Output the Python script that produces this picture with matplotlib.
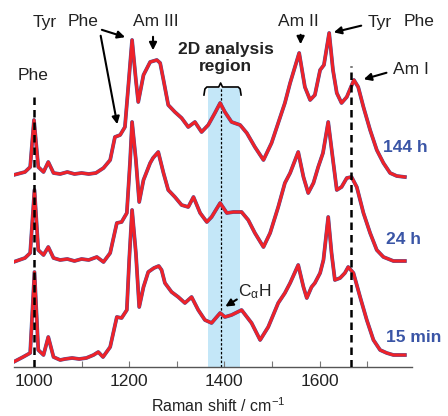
import matplotlib.pyplot as plt

plt.rcParams['font.family'] = ['Liberation Sans', 'DejaVu Sans']
plt.rcParams['mathtext.fontset'] = 'custom'
plt.rcParams['mathtext.rm'] = 'Liberation Sans'
plt.rcParams['mathtext.it'] = 'Liberation Sans:italic'
plt.rcParams['mathtext.default'] = 'regular'

# Raman spectra (arbitrary intensity, baseline ~0)
wn_15min = [957, 977, 992, 1001, 1009, 1020, 1030, 1041, 1055, 1065, 1080, 1095, 1110,
            1125, 1135, 1145, 1160, 1174, 1184, 1195, 1200, 1206, 1214, 1221, 1230, 1240,
            1252, 1262, 1268, 1275, 1289, 1303, 1317, 1331, 1345, 1359, 1373, 1391, 1401,
            1415, 1436, 1457, 1475, 1492, 1513, 1527, 1538, 1555, 1566, 1573, 1583, 1590,
            1601, 1608, 1618, 1625, 1632, 1643, 1653, 1660, 1671, 1685, 1699, 1713, 1727,
            1741, 1755, 1779]
int_15min = [0, 5, 9, 90, 12, 7, 25, 5, 2, 3, 4, 3, 4,
             7, 10, 5, 15, 45, 44, 52, 102, 152, 109, 55, 75, 90,
             94, 96, 92, 79, 70, 65, 59, 65, 52, 42, 39, 49, 45,
             47, 52, 39, 22, 35, 59, 69, 79, 97, 75, 64, 75, 79,
             89, 102, 145, 109, 82, 84, 89, 95, 89, 65, 42, 22, 12,
             9, 7, 7]

wn_24h = [957, 981, 992, 1001, 1009, 1020, 1030, 1041, 1055, 1070, 1085, 1100, 1115,
          1132, 1146, 1160, 1174, 1184, 1195, 1202, 1206, 1214, 1221, 1230, 1244, 1250,
          1261, 1272, 1282, 1296, 1310, 1324, 1335, 1349, 1363, 1373, 1391, 1405, 1419,
          1436, 1450, 1464, 1482, 1496, 1513, 1527, 1538, 1555, 1566, 1576, 1587, 1597,
          1607, 1618, 1628, 1636, 1646, 1657, 1667, 1678, 1692, 1706, 1720, 1734, 1755,
          1779]
int_24h = [0, 4, 9, 72, 12, 7, 15, 4, 2, 3, 1, 3, 2,
           5, 0, 9, 39, 40, 49, 102, 140, 102, 60, 82, 99, 104,
           110, 89, 72, 65, 57, 55, 65, 49, 40, 45, 59, 49, 50,
           50, 42, 29, 15, 29, 55, 79, 89, 110, 85, 69, 79, 95,
           109, 140, 102, 72, 75, 84, 85, 75, 49, 29, 12, 5, 1,
           1]

wn_144h = [957, 981, 992, 1000, 1009, 1020, 1030, 1041, 1055, 1070, 1085, 1100, 1115,
           1130, 1146, 1160, 1170, 1181, 1191, 1198, 1206, 1214, 1219, 1230, 1244, 1258,
           1265, 1272, 1282, 1296, 1310, 1324, 1338, 1352, 1366, 1380, 1391, 1401, 1415,
           1433, 1447, 1464, 1482, 1499, 1513, 1527, 1538, 1557, 1569, 1580, 1590, 1601,
           1609, 1620, 1628, 1636, 1646, 1657, 1672, 1681, 1692, 1706, 1720, 1734, 1748,
           1762, 1779]
int_144h = [2, 5, 10, 57, 10, 5, 15, 4, 3, 5, 3, 4, 3,
            4, 9, 17, 40, 42, 50, 90, 137, 97, 75, 102, 115, 117,
            114, 97, 72, 65, 59, 50, 55, 45, 52, 64, 74, 65, 55,
            52, 44, 30, 17, 34, 54, 74, 94, 124, 90, 77, 82, 107,
            112, 144, 107, 84, 74, 80, 97, 90, 70, 47, 27, 14, 4,
            1, 0]

labels = ['15 min', '24 h', '144 h']
offsets = [5, 105, 190]

red = '#ee2229'
blue = '#3a55a6'
txt = '#222222'

fig = plt.figure(figsize=(4.48, 4.16), dpi=100)
ax = fig.add_axes([14 / 448, 1 - 367 / 416, 398 / 448, 367 / 416])
ax.set_xlim(958, 1794)
ax.set_ylim(0, 367)

# 2D analysis region
ax.axvspan(1365, 1433, ymin=0, ymax=279 / 367, color='#c4e7f8', lw=0, zorder=0)
ax.plot([1357, 1359, 1363, 1388, 1392, 1396, 1429, 1433, 1435],
        [272, 278, 280, 280, 284, 280, 280, 278, 272], color='black', lw=1.2)
ax.plot([1392, 1392], [0, 280], color='black', lw=0.9, ls=(0, (2, 1.5)), zorder=1)

traces = [(wn_15min, int_15min), (wn_24h, int_24h), (wn_144h, int_144h)]
for (wn, inten), off in zip(traces, offsets):
    y = [v + off for v in inten]
    ax.plot(wn, y, color=blue, lw=2.7, zorder=2, solid_joinstyle='round')
    ax.plot(wn, y, color=red, lw=2.2, zorder=3, solid_joinstyle='round')

# marker lines
ax.plot([1000, 1000], [0, 275], color='black', lw=1.8, ls=(0, (3, 2)), zorder=4)
ax.plot([1665, 1665], [0, 301], color='black', lw=1.8, ls=(0, (3, 2)), zorder=4)

# labels
fs = 12.5
ax.text(998, 291, 'Phe', fontsize=fs, color=txt, ha='center', va='center')
ax.text(1022, 345, 'Tyr', fontsize=fs, color=txt, ha='center', va='center')
ax.text(1104, 345, 'Phe', fontsize=fs, color=txt, ha='center', va='center')
ax.text(1256, 345, 'Am III', fontsize=fs, color=txt, ha='center', va='center')
ax.text(1555, 345, 'Am II', fontsize=fs, color=txt, ha='center', va='center')
ax.text(1726, 345, 'Tyr', fontsize=fs, color=txt, ha='center', va='center', clip_on=False)
ax.text(1809, 345, 'Phe', fontsize=fs, color=txt, ha='center', va='center', clip_on=False)
ax.text(1754, 297, 'Am I', fontsize=fs, color=txt, ha='left', va='center', clip_on=False)
ax.text(1429, 75, r'C$_{\alpha}$H', fontsize=fs, color=txt, ha='left', va='center')
ax.text(1403, 309, '2D analysis\nregion', fontsize=12.5, fontweight='bold', color=txt,
        ha='center', va='center', linespacing=1.15)

arrow = dict(arrowstyle='-|>', color='black', lw=1.5, mutation_scale=11)
ax.annotate('', xy=(1250, 314), xytext=(1250, 333), arrowprops=arrow)
ax.annotate('', xy=(1197, 329), xytext=(1137, 338), arrowprops=arrow)
ax.annotate('', xy=(1176, 240), xytext=(1139, 334), arrowprops=arrow)
ax.annotate('', xy=(1560, 320), xytext=(1560, 335), arrowprops=arrow)
ax.annotate('', xy=(1624, 334), xytext=(1693, 342), arrowprops=arrow)
ax.annotate('', xy=(1687, 287), xytext=(1746, 295), arrowprops=arrow)
ax.annotate('', xy=(1397, 59), xytext=(1431, 69), arrowprops=arrow)

for lab, ypos, xpos in zip(labels, [29, 127, 219], [1740, 1740, 1733]):
    ax.text(xpos, ypos, lab, fontsize=12.5, fontweight='bold', color=blue,
            ha='left', va='center', clip_on=False)

for s in ['left', 'right', 'top']:
    ax.spines[s].set_visible(False)
ax.spines['bottom'].set_color('#555555')
ax.spines['bottom'].set_linewidth(1.0)
ax.set_yticks([])
ax.set_xticks([1000, 1100, 1200, 1300, 1400, 1500, 1600, 1700])
ax.set_xticklabels(['1000', '', '1200', '', '1400', '', '1600', ''])
ax.tick_params(axis='x', direction='in', length=4, width=0.8, color='#777777',
               labelsize=12.5, labelcolor=txt, pad=5)
ax.patch.set_alpha(0)

fig.text(218 / 448, 1 - 412 / 416, 'Raman shift / cm$^{-1}$', fontsize=11.5,
         color=txt, ha='center', va='baseline')

fig.savefig('out.png', dpi=100)
